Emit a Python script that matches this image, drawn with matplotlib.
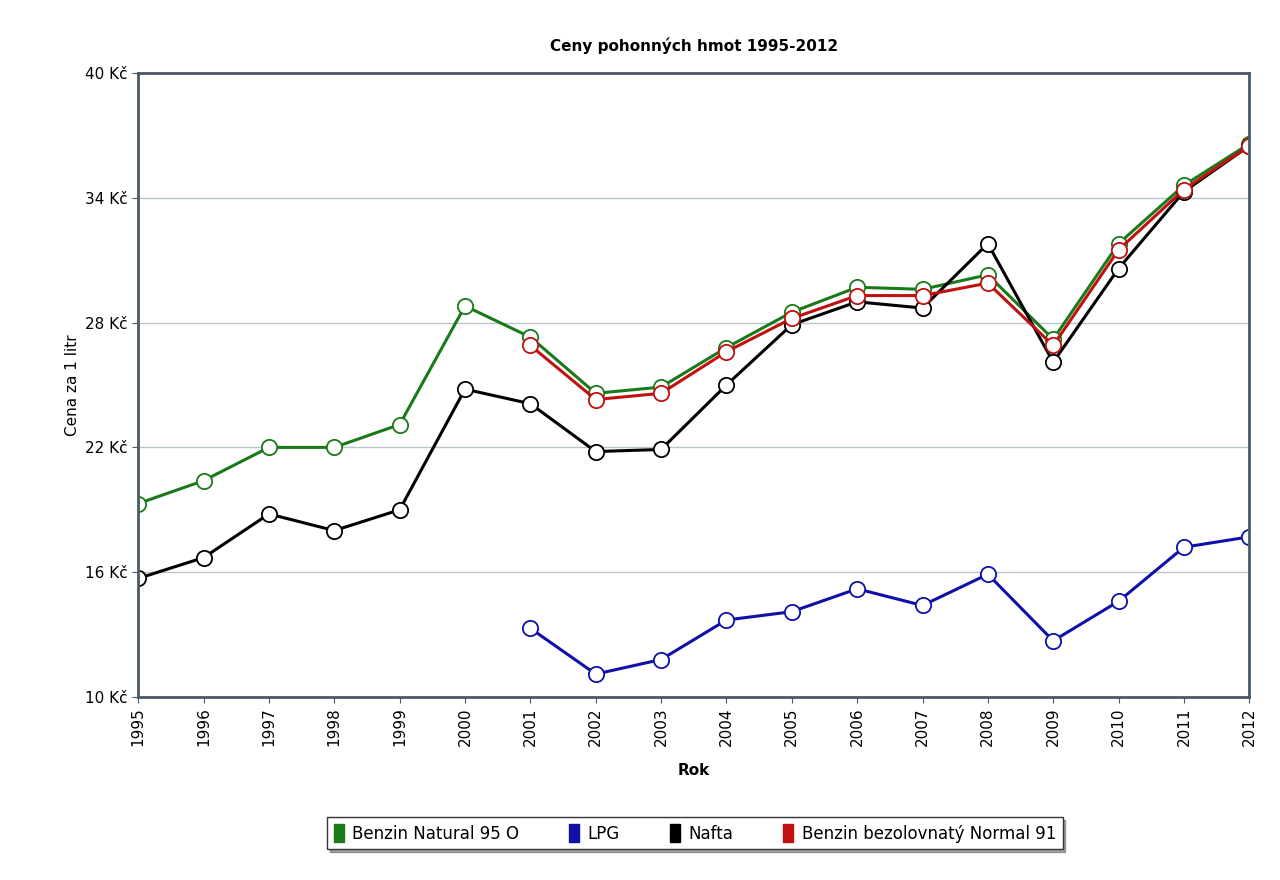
import matplotlib
matplotlib.use("Agg")
import matplotlib.pyplot as plt
from matplotlib.patches import Patch
import numpy as np

years = list(range(1995, 2013))
natural95 = [19.3, 20.4, 22.0, 22.0, 23.1, 28.8, 27.3, 24.6, 24.9, 26.8, 28.5, 29.7, 29.6, 30.3, 27.2, 31.8, 34.6, 36.6]
lpg = [None]*6 + [13.3, 11.1, 11.8, 13.7, 14.1, 15.2, 14.4, 15.9, 12.7, 14.6, 17.2, 17.7]
nafta = [15.7, 16.7, 18.8, 18.0, 19.0, 24.8, 24.1, 21.8, 21.9, 25.0, 27.9, 29.0, 28.7, 31.8, 26.1, 30.6, 34.3, 36.5]
normal91 = [None]*6 + [26.9, 24.3, 24.6, 26.6, 28.2, 29.3, 29.3, 29.9, 26.9, 31.5, 34.4, 36.5]
series_names = ["Benzin Natural 95 O", "LPG", "Nafta", "Benzin bezolovnatý Normal 91"]
colors = ["#1a7a1a", "#1010a8", "#000000", "#c01010"]
yticks = [10, 16, 22, 28, 34, 40]

plt.rcParams["font.family"] = "DejaVu Sans"
fig = plt.figure(figsize=(12.8, 8.8), dpi=100)
ax = fig.add_axes([0.108, 0.208, 0.868, 0.709])
for name, vals, c in zip(series_names, [natural95, lpg, nafta, normal91], colors):
    v = np.array([np.nan if x is None else x for x in vals], dtype=float)
    ax.plot(years, v, color=c, lw=2.2, marker="o", ms=11, mfc="white", mec=c, mew=1.3, label=name)

ax.set_xlim(1995, 2012)
ax.set_ylim(10, 40)
ax.set_yticks(yticks)
ax.set_yticklabels([f"{t} Kč" for t in yticks], fontsize=11)
ax.set_xticks(years)
ax.set_xticklabels([str(y) for y in years], rotation=90, fontsize=11)
ax.grid(axis="y", color="#b8c4cc", lw=1)
ax.set_axisbelow(True)
for s in ax.spines.values():
    s.set_color("#4a5a68"); s.set_linewidth(2)
ax.tick_params(length=4, color="#4a5a68")
ax.set_title("Ceny pohonných hmot 1995-2012", fontsize=11, fontweight="bold", pad=16)
ax.set_xlabel("Rok", fontsize=11, fontweight="bold", labelpad=12)
ax.set_ylabel("Cena za 1 litr", fontsize=11)
handles = [Patch(facecolor=c, edgecolor=c) for c in colors]
leg = fig.legend(handles, series_names, loc="center", bbox_to_anchor=(0.543, 0.053), ncol=4,
                 fontsize=12, frameon=True, fancybox=False, shadow=True, edgecolor="#333333",
                 handlelength=0.6, handleheight=1.3, columnspacing=3.0, handletextpad=0.5,
                 borderpad=0.4)
fig.savefig("out.png", dpi=100, facecolor="white")
